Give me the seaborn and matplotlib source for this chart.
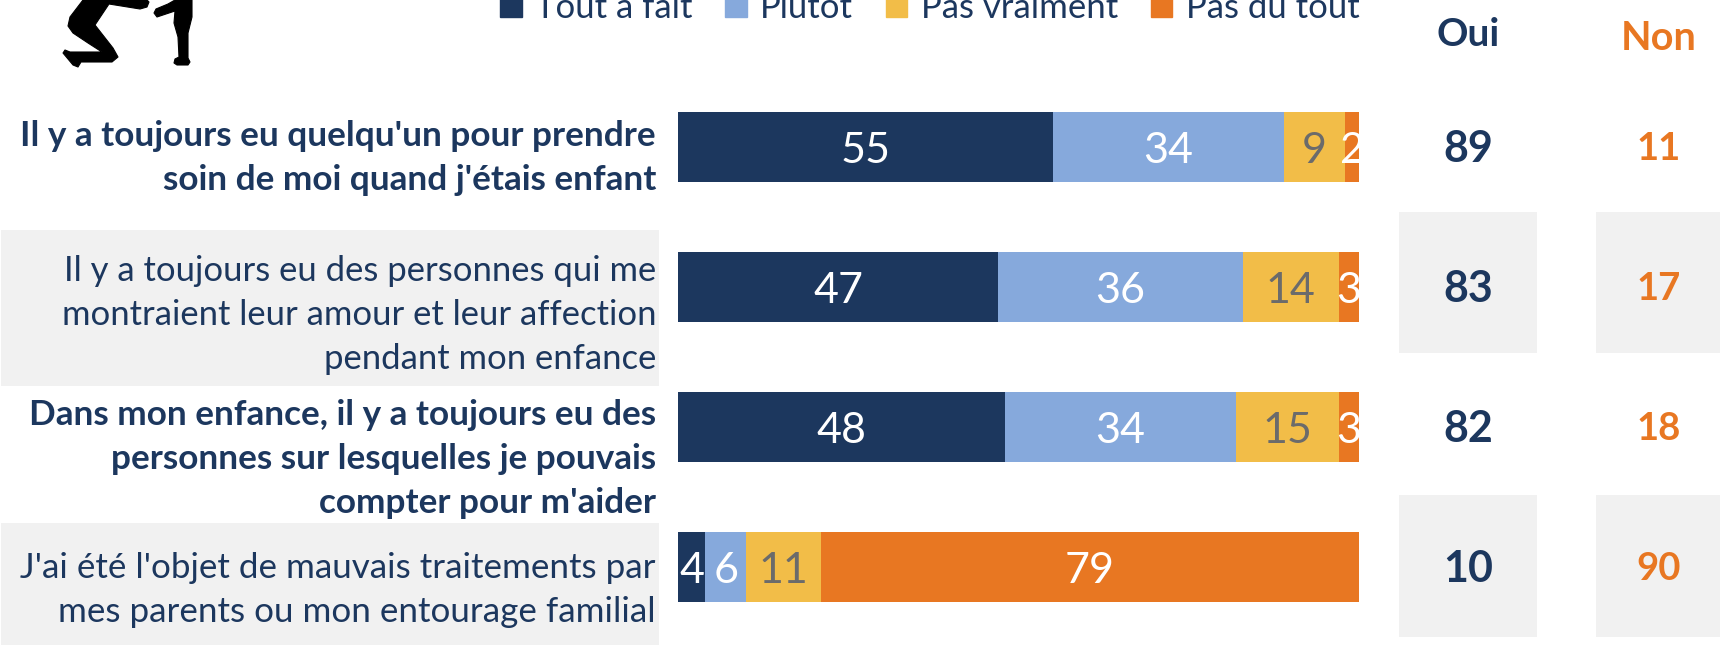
import matplotlib
matplotlib.use("Agg")
import matplotlib.pyplot as plt
from matplotlib.patches import Patch, Rectangle, Polygon
import numpy as np
import seaborn as sns

questions = [
    "Il y a toujours eu quelqu'un pour prendre\nsoin de moi quand j'étais enfant",
    "Il y a toujours eu des personnes qui me\nmontraient leur amour et leur affection\npendant mon enfance",
    "Dans mon enfance, il y a toujours eu des\npersonnes sur lesquelles je pouvais\ncompter pour m'aider",
    "J'ai été l'objet de mauvais traitements par\nmes parents ou mon entourage familial",
]
answers = ["Tout à fait", "Plutôt", "Pas vraiment", "Pas du tout"]
tout_a_fait = [55, 47, 48, 4]
plutot = [34, 36, 34, 6]
pas_vraiment = [9, 14, 15, 11]
pas_du_tout = [2, 3, 3, 79]
oui = [89, 83, 82, 10]
non = [11, 17, 18, 90]

NAVY = "#1C375E"
BLUE = "#86A9DC"
YELLOW = "#F2BD48"
ORANGE = "#E87722"
GREY = "#F1F1F1"
W, H = 1720, 645

sns.set_theme(style="white")
plt.rcParams["font.family"] = ["Lato", "DejaVu Sans"]

fig = plt.figure(figsize=(W / 100, H / 100), dpi=100)
ax = fig.add_axes([678 / W, (H - 637) / H, 681 / W, 560 / H])
ax.patch.set_alpha(0)


def fx(px):
    return px / W


def fy(py):
    return 1 - py / H


def box(x0, y0, x1, y1):
    fig.add_artist(Rectangle((fx(x0), fy(y1)), (x1 - x0) / W, (y1 - y0) / H,
                             transform=fig.transFigure, color=GREY, lw=0, zorder=-5))


# grey stripes behind rows 2 and 4
for y0, y1 in [(230, 386), (523, 645)]:
    box(1, y0, 659, y1)
for y0, y1 in [(212, 353), (495, 637)]:
    box(1399, y0, 1537, y1)
    box(1596, y0, 1720, y1)

# stacked bars, drawn from the longest total down
series = [tout_a_fait, plutot, pas_vraiment, pas_du_tout]
colors = [NAVY, BLUE, YELLOW, ORANGE]
totals = np.cumsum(series, axis=0)
for i in [3, 2, 1, 0]:
    sns.barplot(x=totals[i], y=questions, color=colors[i], width=0.5,
                saturation=1, orient="h", ax=ax, zorder=2, linewidth=0)

ax.set_xlim(0, 100)
ax.set_ylim(3.5, -0.5)
ax.axis("off")

for i in range(4):
    start = 0
    for j, vals in enumerate(series):
        col = "#6B6B6B" if j == 2 else "white"
        ax.text(start + vals[i] / 2, i + 0.03, str(vals[i]), color=col, fontsize=31,
                ha="center", va="center", clip_on=True, zorder=5)
        start += vals[i]
    ax.text(116, i + 0.015, str(oui[i]), color=NAVY, fontsize=31, fontweight="bold",
            ha="center", va="center", clip_on=False)
    ax.text(144, i + 0.015, str(non[i]), color=ORANGE, fontsize=27.5, fontweight="bold",
            ha="center", va="center", clip_on=False)

# question labels
label_y = [158, 315, 459, 590]
label_size = [25.3, 24.9, 25.3, 25.2]
for i, q in enumerate(questions):
    fig.text(fx(656), fy(label_y[i]), q, color=NAVY, fontsize=label_size[i],
             ha="right", va="center", multialignment="right", linespacing=1.45,
             fontweight="bold" if i % 2 == 0 else "normal")

fig.text(fx(1468), fy(34), "Oui", color=NAVY, fontsize=28, fontweight="bold", ha="center", va="center")
fig.text(fx(1659), fy(38), "Non", color=ORANGE, fontsize=28.5, fontweight="bold", ha="center", va="center")

handles = [Patch(color=c, label=a) for c, a in zip(colors, answers)]
fig.legend(handles=handles, loc="upper left", bbox_to_anchor=(fx(500), fy(-8)), ncol=4,
           frameon=False, fontsize=25, labelcolor=NAVY, handlelength=0.62, handleheight=0.62,
           handletextpad=0.38, columnspacing=0.95, borderpad=0, borderaxespad=0)

# silhouette in the top left corner, outline in pixels
body = [(83, 0), (70, 17), (68, 26), (73, 33), (88, 43), (102, 52), (70, 52), (65, 50), (63, 53),
        (73, 65), (78, 67), (81, 62), (112, 62), (118, 57), (113, 48), (95, 25), (109, 4),
        (140, 9), (147, 7), (149, 2), (147, 0)]
other = [(175, 0), (168, 4), (156, 9), (154, 13), (157, 17), (175, 11), (174, 23), (178, 37),
         (179, 57), (175, 59), (174, 63), (177, 65), (188, 65), (190, 62), (188, 58), (188, 33),
         (192, 17), (192, 7), (192, 0)]
for shape in (body, other):
    fig.add_artist(Polygon([(fx(x), fy(y)) for x, y in shape], closed=True, color="black",
                           lw=0.8, joinstyle="round", transform=fig.transFigure))

fig.savefig("out.png", dpi=100)
plt.close(fig)
